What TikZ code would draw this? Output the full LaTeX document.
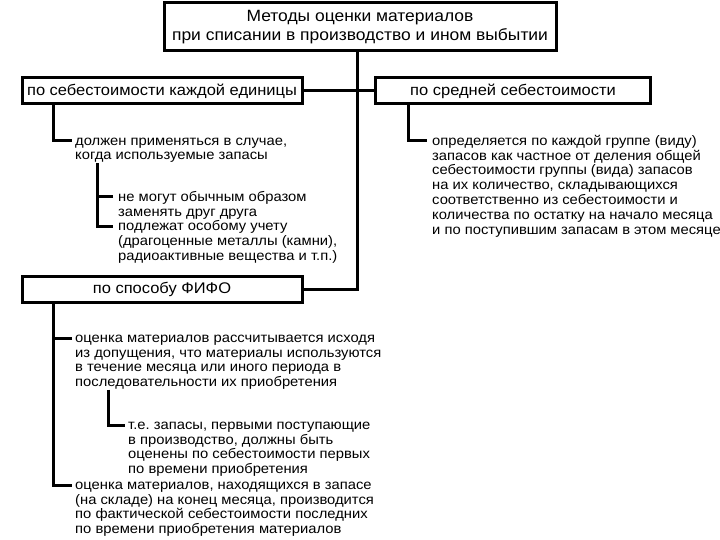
\documentclass[tikz,border=0pt]{standalone}
\usepackage{fontspec}
\setmainfont{Liberation Sans}[FakeStretch=1.07]
\frenchspacing
\begin{document}
\begin{tikzpicture}[x=1pt,y=-1pt,
  box/.style={draw,line width=3pt,inner sep=0pt,minimum height=26pt,font=\fontsize{15.4}{15}\selectfont},
  txt/.style={anchor=north west,inner sep=0pt,align=left,font=\fontsize{13.8}{14.8}\selectfont},
  wire/.style={line width=3pt}
]
  \newcommand{\up}{\rule{0pt}{12pt}}
  \useasboundingbox (0,0) rectangle (720,540);
  \node[box,minimum width=392pt,minimum height=48pt,align=center,
    font=\fontsize{16.3}{19}\selectfont] (metody) at (360,27)
    {Методы оценки материалов\\при списании в производство и ином выбытии};
  \node[box,minimum width=280pt] (edinica) at (162,91) {по себестоимости каждой единицы};
  \node[box,minimum width=275pt] (srednyaya) at (513,91) {по средней себестоимости};
  \node[box,minimum width=280pt] (fifo) at (162,289) {по способу ФИФО};

  \draw[wire] ([xshift=-3pt]metody.south) |- (fifo.east);
  \draw[wire] (edinica.east) -- (srednyaya.west);

  \node[txt] (dolzhen) at (75,133) {\up должен применяться в случае,\\когда используемые запасы};
  \node[txt] (nemogut) at (118,189) {\up не могут обычным образом\\заменять друг друга};
  \node[txt] (podlezhat) at (118,218.6) {\up подлежат особому учету\\(драгоценные металлы (камни),\\радиоактивные вещества и т.п.)};
  \draw[wire] ([xshift=33pt]edinica.south west) |- ([xshift=-3pt,yshift=-8pt]dolzhen.north west);
  \draw[wire] ([xshift=22pt]dolzhen.south west) |- ([xshift=-5pt,yshift=-8pt]podlezhat.north west);
  \draw[wire] ([xshift=-5pt,yshift=-8pt]nemogut.north west) -| ([xshift=22pt]dolzhen.south west);

  \node[txt] (opred) at (432,133) {\up определяется по каждой группе (виду)\\запасов как частное от деления общей\\себестоимости группы (вида) запасов\\на их количество, складывающихся\\соответственно из себестоимости и\\количества по остатку на начало месяца\\и по поступившим запасам в этом месяце};
  \draw[wire] ([xshift=34pt]srednyaya.south west) |- ([xshift=-5pt,yshift=-8pt]opred.north west);

  \node[txt] (raschet) at (75,330) {\up оценка материалов рассчитывается исходя\\из допущения, что материалы используются\\в течение месяца или иного периода в\\последовательности их приобретения};
  \node[txt] (pervye) at (128,417) {\up т.е. запасы, первыми поступающие\\в производство, должны быть\\оценены по себестоимости первых\\по времени приобретения};
  \node[txt] (ostatok) at (75,477) {\up оценка материалов, находящихся в запасе\\(на складе) на конец месяца, производится\\по фактической себестоимости последних\\по времени приобретения материалов};
  \draw[wire] ([xshift=33pt]fifo.south west) |- ([xshift=-3pt,yshift=-8pt]ostatok.north west);
  \draw[wire] ([xshift=-3pt,yshift=-8pt]raschet.north west) -| ([xshift=33pt]fifo.south west);
  \draw[wire] ([xshift=33pt]raschet.south west) |- ([xshift=-3pt,yshift=-8pt]pervye.north west);
\end{tikzpicture}
\end{document}
